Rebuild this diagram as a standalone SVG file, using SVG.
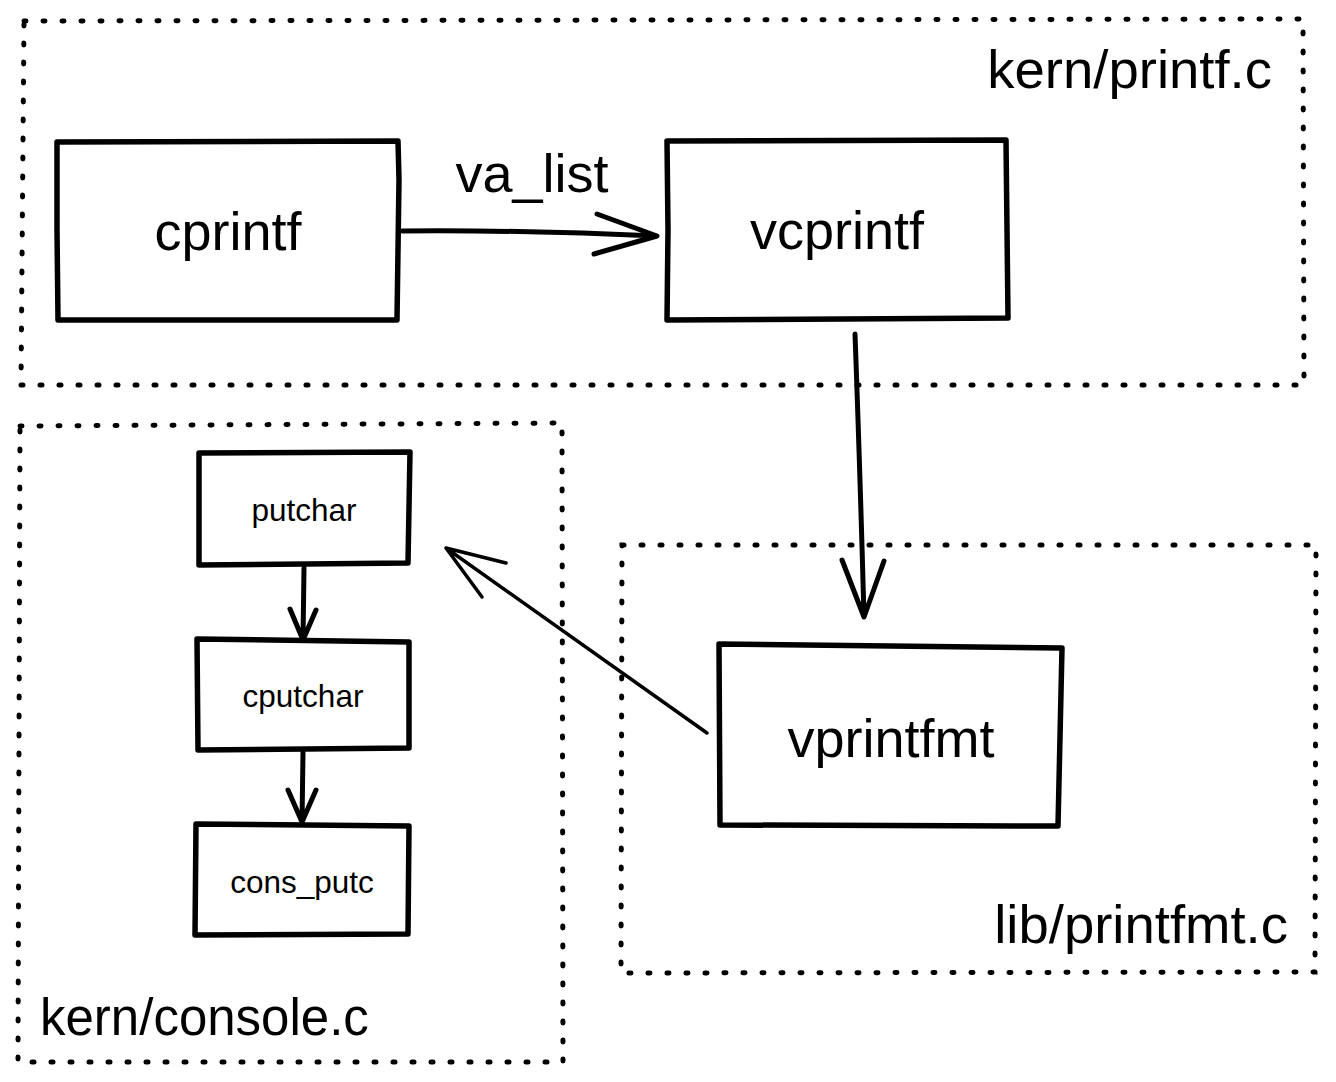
<svg xmlns="http://www.w3.org/2000/svg" width="1336" height="1082" viewBox="0 0 1336 1082">
<style>
.grp{fill:none;stroke:#000;stroke-width:5;stroke-dasharray:2 17;stroke-linecap:round}
.box{fill:none;stroke:#000;stroke-width:5.5;stroke-linejoin:round;stroke-linecap:round}
.ln{fill:none;stroke:#000;stroke-width:5;stroke-linecap:round;stroke-linejoin:round}
.t{font-family:"Liberation Sans",Arial,Helvetica,sans-serif;fill:#000}
.big{font-size:54px}
.sm{font-size:31.5px}
</style>
<rect width="1336" height="1082" fill="#fff"/>
<g id="group-kern-printf">
<path class="grp" d="M24 21 L1303 19 L1304 385 L21 385 Z"/>
<text class="t" style="font-size:54.5px" x="1272" y="88" text-anchor="end">kern/printf.c</text>
</g>
<g id="group-kern-console">
<path class="grp" d="M20 426 L562 423 L563 1062 L18 1062 Z"/>
<text class="t" style="font-size:51px" x="40" y="1035">kern/console.c</text>
</g>
<g id="group-lib-printfmt">
<path class="grp" d="M622 545 L1316 545 L1315 972 L621 973 Z"/>
<text class="t" style="font-size:54.5px" x="1288" y="943" text-anchor="end">lib/printfmt.c</text>
</g>
<g id="node-cprintf">
<path class="box" d="M57 142 L398 141 L399 180 L397 320 L58 320 L57 230 Z"/>
<text class="t big" x="228" y="250" text-anchor="middle">cprintf</text>
</g>
<g id="node-vcprintf">
<path class="box" d="M667 141 L1006 140 L1008 318 L667 320 L668 230 Z"/>
<text class="t big" x="837" y="249" text-anchor="middle">vcprintf</text>
</g>
<g id="node-vprintfmt">
<path class="box" d="M719 644 L1062 648 L1058 826 L720 825 Z"/>
<text class="t big" x="891" y="757" text-anchor="middle">vprintfmt</text>
</g>
<g id="node-putchar">
<path class="box" d="M199 453 L410 452 L408 563 L199 565 Z"/>
<text class="t sm" x="304" y="521" text-anchor="middle">putchar</text>
</g>
<g id="node-cputchar">
<path class="box" d="M197 639 L409 642 L409 748 L198 750 Z"/>
<text class="t sm" x="303" y="707" text-anchor="middle">cputchar</text>
</g>
<g id="node-cons_putc">
<path class="box" d="M196 824 L409 826 L408 934 L195 935 Z"/>
<text class="t sm" x="302" y="893" text-anchor="middle">cons_putc</text>
</g>
<g id="connectors">
<text class="t big" x="532" y="192" text-anchor="middle">va_list</text>
<path class="ln" d="M402 231 Q530 230 657 236 M597 214 L657 236 L594 254"/>
<path class="ln" d="M855 334 Q860 470 864 617 M842 560 L864 617 L884 561"/>
<path class="ln" style="stroke-width:3.5" d="M707 733 L446 548 M506 563 L446 548 L482 597"/>
<path class="ln" d="M304 568 L303 640 M290 609 L303 640 L316 610"/>
<path class="ln" d="M303 752 L302 822 M288 790 L302 822 L316 790"/>
</g>
</svg>
